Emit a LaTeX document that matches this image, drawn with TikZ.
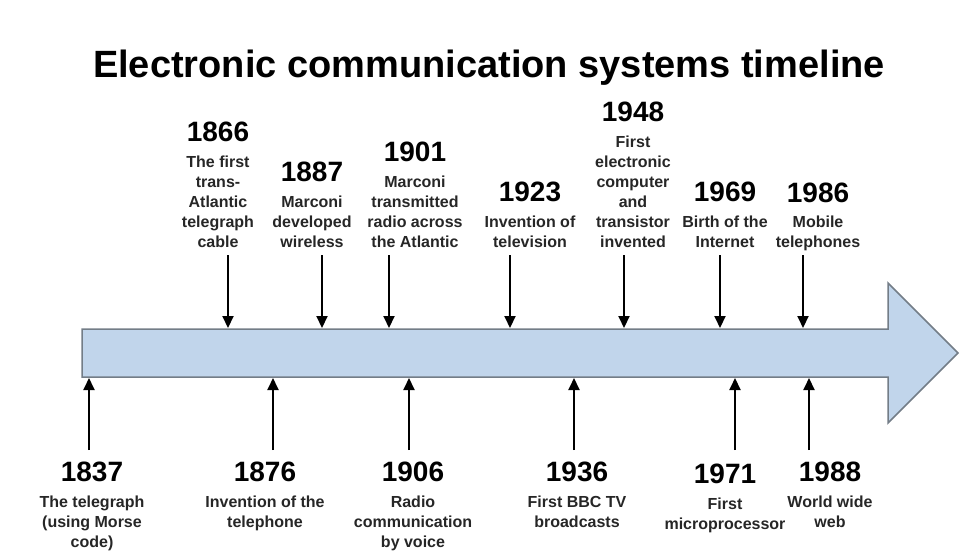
\documentclass[tikz,border=0pt]{standalone}
\usepackage{fontspec}
\setmainfont{Liberation Sans}
\usepackage{xcolor}
\usepackage{tikz}
\usetikzlibrary{arrows.meta}
\usetikzlibrary{positioning}

\definecolor{barfill}{RGB}{193,213,235}
\definecolor{baredge}{RGB}{115,125,135}

\begin{document}
\begin{tikzpicture}[
        x=1pt, y=-1pt,
        year/.style={inner sep=0pt, font=\bfseries\fontsize{28}{30}\selectfont},
        desc/.style={inner sep=0pt, align=center, text=black!85, font=\bfseries\fontsize{16}{20}\selectfont},
        pointer/.style={-{Triangle[length=12pt,width=11pt]}, line width=2pt},
        timebar/.style={fill=barfill, draw=baredge, line width=1.5pt, line join=miter}
    ]
        \useasboundingbox (0,0) rectangle (960,558);

        % Title
        \node[anchor=base, font=\bfseries\fontsize{38}{40}\selectfont] (title) at (489,77) {Electronic communication systems timeline};

        % The big timeline arrow
        \draw[timebar] (82,329) -- (888,329) -- (888,283) -- (958,353) -- (888,423) -- (888,377) -- (82,377) -- cycle;
        \coordinate (bartop) at (0,328);
        \coordinate (barbot) at (0,378);

        % Events above the timeline
        \node[desc, anchor=south] (d1866) at (218,248) {The first\\trans-\\Atlantic\\telegraph\\cable};
        \node[year, above=13.5pt of d1866] (y1866) {1866};
        \node[desc, anchor=south] (d1887) at (312,248) {Marconi\\developed\\wireless};
        \node[year, above=13.5pt of d1887] (y1887) {1887};
        \node[desc, anchor=south] (d1901) at (415,248) {Marconi\\transmitted\\radio across\\the Atlantic};
        \node[year, above=13.5pt of d1901] (y1901) {1901};
        \node[desc, anchor=south] (d1923) at (530,248) {Invention of\\television};
        \node[year, above=13.5pt of d1923] (y1923) {1923};
        \node[desc, anchor=south] (d1948) at (633,248) {First\\electronic\\computer\\and\\transistor\\invented};
        \node[year, above=13.5pt of d1948] (y1948) {1948};
        \node[desc, anchor=south] (d1969) at (725,248) {Birth of the\\Internet};
        \node[year, above=13.5pt of d1969] (y1969) {1969};
        \node[desc, anchor=south] (d1986) at (818,251.5) {Mobile\\telephones};
        \node[year, above=13.5pt of d1986] (y1986) {1986};

        % Events below the timeline
        \node[year, anchor=north] (y1837) at (92,462) {1837};
        \node[desc, below=13.5pt of y1837] (d1837) {The telegraph\\(using Morse\\code)};
        \node[year, anchor=north] (y1876) at (265,462) {1876};
        \node[desc, below=13.5pt of y1876] (d1876) {Invention of the\\telephone};
        \node[year, anchor=north] (y1906) at (413,462) {1906};
        \node[desc, below=13.5pt of y1906] (d1906) {Radio\\communication\\by voice};
        \node[year, anchor=north] (y1936) at (577,462) {1936};
        \node[desc, below=13.5pt of y1936] (d1936) {First BBC TV\\broadcasts};
        \node[year, anchor=north] (y1971) at (725,464) {1971};
        \node[desc, below=13.5pt of y1971] (d1971) {First\\microprocessor};
        \node[year, anchor=north] (y1988) at (830,462) {1988};
        \node[desc, below=13.5pt of y1988] (d1988) {World wide\\web};

        % Pointers down onto the bar
        \coordinate (p1866) at (228,255);
        \coordinate (p1887) at (322,255);
        \coordinate (p1901) at (389,255);
        \coordinate (p1923) at (510,255);
        \coordinate (p1948) at (624,255);
        \coordinate (p1969) at (720,255);
        \coordinate (p1986) at (803,255);
        \draw[pointer] (p1866) -- (p1866 |- bartop);
        \draw[pointer] (p1887) -- (p1887 |- bartop);
        \draw[pointer] (p1901) -- (p1901 |- bartop);
        \draw[pointer] (p1923) -- (p1923 |- bartop);
        \draw[pointer] (p1948) -- (p1948 |- bartop);
        \draw[pointer] (p1969) -- (p1969 |- bartop);
        \draw[pointer] (p1986) -- (p1986 |- bartop);

        % Pointers up onto the bar
        \coordinate (p1837) at (89,450);
        \coordinate (p1876) at (273,450);
        \coordinate (p1906) at (409,450);
        \coordinate (p1936) at (574,450);
        \coordinate (p1971) at (735,450);
        \coordinate (p1988) at (809,450);
        \draw[pointer] (p1837) -- (p1837 |- barbot);
        \draw[pointer] (p1876) -- (p1876 |- barbot);
        \draw[pointer] (p1906) -- (p1906 |- barbot);
        \draw[pointer] (p1936) -- (p1936 |- barbot);
        \draw[pointer] (p1971) -- (p1971 |- barbot);
        \draw[pointer] (p1988) -- (p1988 |- barbot);
    \end{tikzpicture}
\end{document}
